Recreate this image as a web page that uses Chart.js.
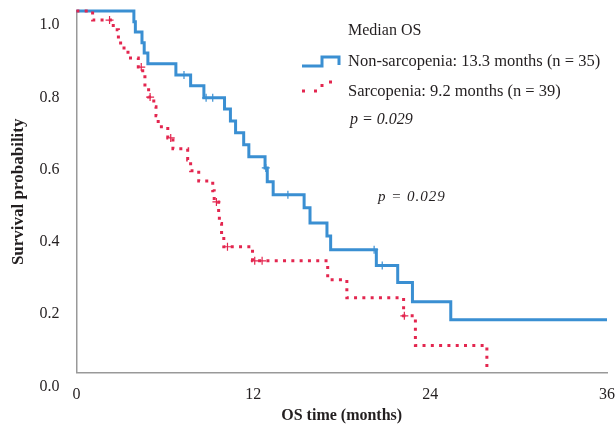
<!DOCTYPE html>
<html>
<head>
<meta charset="utf-8">
<script src="https://cdn.jsdelivr.net/npm/chart.js@4"></script>
<style>
  html, body { margin: 0; padding: 0; background: #fff; }
</style>
</head>
<body>
<canvas id="km" width="616" height="426"></canvas>
<script>
// Kaplan-Meier steps (time in months, survival)
const nonSarcTimes = [0, 3.9, 4.0, 4.45, 4.6, 4.85, 6.75, 7.75, 8.65, 10.05, 10.45, 10.8, 11.35, 11.7, 12.8, 12.95, 13.35, 15.45, 15.85, 17.0, 17.25, 20.35, 21.8, 22.8, 25.4, 36];
const nonSarcSurv  = [1, 0.970, 0.942, 0.912, 0.884, 0.854, 0.823, 0.793, 0.760, 0.729, 0.696, 0.663, 0.630, 0.597, 0.566, 0.528, 0.492, 0.456, 0.414, 0.378, 0.340, 0.296, 0.249, 0.196, 0.146, 0.146];
const nonSarcCensTimes = [7.3, 8.8, 9.25, 12.85, 14.35, 20.2, 20.75];
const nonSarcCensSurv  = [0.823, 0.760, 0.760, 0.566, 0.492, 0.340, 0.296];

const sarcTimes = [0, 1.1, 2.5, 2.85, 3.0, 3.5, 4.2, 4.5, 4.65, 4.9, 5.25, 5.4, 5.55, 6.2, 6.55, 7.55, 7.75, 8.3, 9.25, 9.35, 9.65, 9.7, 9.85, 10.0, 11.95, 17.05, 18.35, 22.2, 23.0, 27.85];
const sarcSurv  = [1, 0.975, 0.948, 0.923, 0.898, 0.870, 0.845, 0.818, 0.787, 0.762, 0.735, 0.710, 0.680, 0.649, 0.619, 0.588, 0.558, 0.530, 0.503, 0.472, 0.442, 0.412, 0.381, 0.348, 0.309, 0.257, 0.207, 0.157, 0.075, 0];
const sarcCensTimes = [2.25, 4.4, 5.0, 6.4, 9.5, 10.25, 12.1, 12.6, 22.25];
const sarcCensSurv  = [0.975, 0.845, 0.762, 0.649, 0.472, 0.348, 0.309, 0.309, 0.157];

const xTickValues = [0, 12, 24, 36];
const legendTitle = 'Median OS';
const legendLabels = ['Non-sarcopenia: 13.3 months (n = 35)', 'Sarcopenia: 9.2 months (n = 39)'];
const pText = 'p = 0.029';

const BLUE = '#3a8fd2';
const RED = '#e3264f';
const SERIF = '"Liberation Serif", "Times New Roman", serif';

const toPoints = (xs, ys) => xs.map((x, i) => ({ x: x, y: ys[i] }));

// legend + p value annotations
const annotations = {
  id: 'annotations',
  afterDatasetsDraw(chart) {
    const ctx = chart.ctx;
    ctx.save();
    ctx.fillStyle = '#231f20';
    ctx.textBaseline = 'middle';
    ctx.font = '16px ' + SERIF;
    ctx.fillText(legendTitle, 348, 31);
    ctx.font = '16.5px ' + SERIF;
    ctx.fillText(legendLabels[0], 348, 62);
    ctx.fillText(legendLabels[1], 348, 92);
    ctx.font = 'italic 16px ' + SERIF;
    ctx.fillText(pText, 350, 120);
    ctx.font = 'italic 15px ' + SERIF;
    ctx.letterSpacing = '1px';
    ctx.fillText(pText, 378, 197);
    ctx.letterSpacing = '0px';

    // blue step symbol
    ctx.strokeStyle = BLUE;
    ctx.lineWidth = 3;
    ctx.beginPath();
    ctx.moveTo(302, 66); ctx.lineTo(322, 66); ctx.lineTo(322, 57);
    ctx.lineTo(339, 57); ctx.lineTo(339, 65);
    ctx.stroke();

    // red dotted step symbol
    ctx.strokeStyle = RED;
    ctx.setLineDash([3, 9]);
    ctx.beginPath();
    ctx.moveTo(302, 91); ctx.lineTo(322, 91); ctx.lineTo(322, 82);
    ctx.lineTo(341, 82);
    ctx.stroke();
    ctx.restore();
  }
};

const ctx = document.getElementById('km').getContext('2d');

const chart = new Chart(ctx, {
  type: 'line',
  data: {
    datasets: [
      {
        label: 'Sarcopenia',
        data: toPoints(sarcTimes, sarcSurv),
        stepped: true,
        borderColor: RED,
        borderWidth: 3,
        borderDash: [3, 5.3],
        pointRadius: 0,
        fill: false,
        clip: false,
        order: 1
      },
      {
        label: 'Sarcopenia censored',
        data: toPoints(sarcCensTimes, sarcCensSurv),
        showLine: false,
        pointStyle: 'cross',
        pointRadius: 4,
        pointBorderWidth: 1.2,
        pointBorderColor: RED,
        clip: false,
        order: 1
      },
      {
        label: 'Non-sarcopenia',
        data: toPoints(nonSarcTimes, nonSarcSurv),
        stepped: true,
        borderColor: BLUE,
        borderWidth: 3,
        pointRadius: 0,
        fill: false,
        clip: false,
        order: 2
      },
      {
        label: 'Non-sarcopenia censored',
        data: toPoints(nonSarcCensTimes, nonSarcCensSurv),
        showLine: false,
        pointStyle: 'cross',
        pointRadius: 4,
        pointBorderWidth: 1.2,
        pointBorderColor: BLUE,
        clip: false,
        order: 2
      }
    ]
  },
  options: {
    responsive: false,
    animation: false,
    events: [],
    layout: { padding: { left: 8, top: 11, right: 0, bottom: 1 } },
    plugins: {
      legend: { display: false },
      tooltip: { enabled: false }
    },
    scales: {
      x: {
        type: 'linear',
        min: 0,
        max: 36,
        afterBuildTicks: (axis) => { axis.ticks = xTickValues.map(v => ({ value: v })); },
        grid: { display: false, drawTicks: true, tickLength: 12 },
        border: { color: '#999', width: 1.5 },
        ticks: { color: '#231f20', padding: 1, font: { family: SERIF, size: 16 } },
        title: {
          display: true,
          text: 'OS time (months)',
          color: '#231f20',
          padding: { top: 0, bottom: 0 },
          font: { family: SERIF, size: 16, weight: 'bold' }
        }
      },
      y: {
        min: 0,
        max: 1,
        grid: { display: false, drawTicks: true, tickLength: 16 },
        border: { color: '#999', width: 1.5 },
        ticks: {
          stepSize: 0.2,
          color: '#231f20',
          padding: 1,
          labelOffset: 14,
          font: { family: SERIF, size: 16 },
          callback: (v) => v.toFixed(1)
        },
        title: {
          display: true,
          text: 'Survival probability',
          color: '#231f20',
          padding: { top: 0, bottom: 10 },
          font: { family: SERIF, size: 17, weight: 'bold' }
        }
      }
    }
  },
  plugins: [annotations]
});
</script>
</body>
</html>
